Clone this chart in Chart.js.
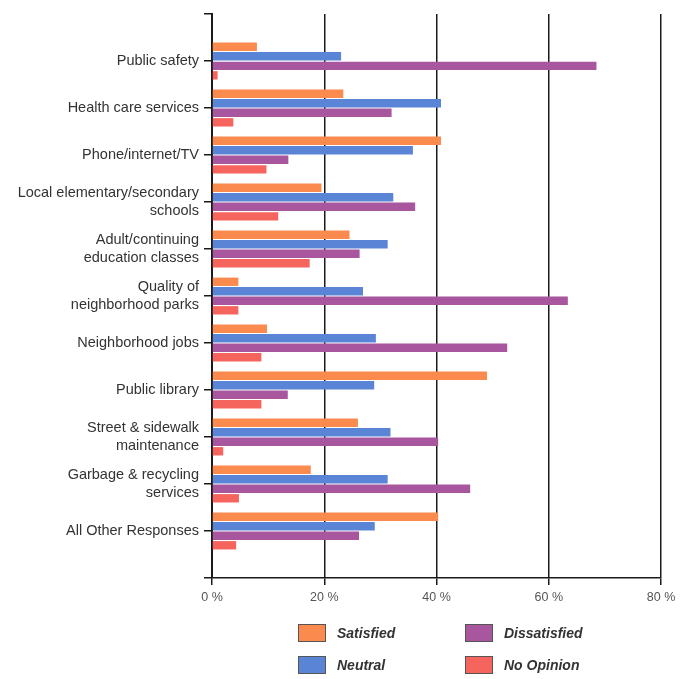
<!DOCTYPE html>
<html>
<head>
<meta charset="utf-8">
<script src="https://cdn.jsdelivr.net/npm/chart.js@4/dist/chart.umd.min.js"></script>
<style>
  body { margin: 0; background: #fff; }
  #wrap { position: relative; width: 691px; height: 679px; }
  #legend {
    position: absolute; left: 298px; top: 624px;
    display: grid; grid-template-columns: 167px 150px; row-gap: 15px;
    font: italic bold 14px "Liberation Sans", Arial, sans-serif; color: #333;
  }
  .item { display: flex; align-items: center; height: 17px; }
  .box { width: 26px; height: 16px; border: 1px solid #555; margin-right: 11px; box-sizing: content-box; }
</style>
</head>
<body>
<div id="wrap">
  <canvas id="chart"></canvas>
  <div id="legend"></div>
</div>
<script>
const categories = [
    "Public safety",
    "Health care services",
    "Phone/internet/TV",
    ["Local elementary/secondary", "schools"],
    ["Adult/continuing", "education classes"],
    ["Quality of", "neighborhood parks"],
    "Neighborhood jobs",
    "Public library",
    ["Street & sidewalk", "maintenance"],
    ["Garbage & recycling", "services"],
    "All Other Responses"
];
const satisfied    = [8, 23.4, 40.8, 19.5, 24.5, 4.7, 9.8, 49, 26, 17.6, 40.3];
const neutral      = [23, 40.8, 35.8, 32.3, 31.3, 26.9, 29.2, 28.9, 31.8, 31.3, 29];
const dissatisfied = [68.5, 32, 13.6, 36.2, 26.3, 63.4, 52.6, 13.5, 40.3, 46, 26.2];
const noOpinion    = [1, 3.8, 9.7, 11.8, 17.4, 4.7, 8.8, 8.8, 2, 4.8, 4.3];
const xTicks = [0, 20, 40, 60, 80];

// blank slot above and below the groups so the axis has half a row of room
const pad = arr => [null, ...arr, null];
const labels = ["", ...categories, ""];

const series = [
    { label: "Satisfied",    data: satisfied,    color: "#fa8a4e" },
    { label: "Neutral",      data: neutral,      color: "#5a85d6" },
    { label: "Dissatisfied", data: dissatisfied, color: "#a8579e" },
    { label: "No Opinion",   data: noOpinion,    color: "#f6645e" }
];

const chart = new Chart(document.getElementById("chart"), {
    type: "bar",
    data: {
        labels: labels,
        datasets: series.map(s => ({
            label: s.label,
            data: pad(s.data),
            backgroundColor: s.color,
            categoryPercentage: 0.81,
            barPercentage: 0.88
        }))
    },
    options: {
        indexAxis: "y",
        responsive: true,
        maintainAspectRatio: false,
        animation: false,
        layout: { padding: { left: 0, right: 30, top: 14, bottom: 61 } },
        plugins: {
            legend: { display: false },
            tooltip: { enabled: false }
        },
        scales: {
            x: {
                min: 0,
                max: 80,
                afterBuildTicks: s => { s.ticks = xTicks.map(v => ({ value: v })); },
                afterFit: s => { s.height = 40; },
                grid: { color: "#1a1a1a", lineWidth: 1.5, tickLength: 7 },
                border: { display: true, color: "#1a1a1a", width: 1.5 },
                ticks: {
                    callback: v => v + " %",
                    color: "#555",
                    padding: 5,
                    font: { family: "Liberation Sans", size: 12.5 }
                }
            },
            y: {
                offset: false,
                afterFit: s => { s.width = 212; },
                grid: { offset: false, drawOnChartArea: false, drawTicks: true, tickLength: 8, color: "#1a1a1a", lineWidth: 1.5 },
                border: { display: true, color: "#1a1a1a", width: 2 },
                ticks: {
                    color: "#333",
                    padding: 5,
                    autoSkip: false,
                    font: { family: "Liberation Sans", size: 14.5, lineHeight: 1.25 }
                }
            }
        }
    }
});

// two-by-two legend below the plot
const legend = document.getElementById("legend");
[0, 2, 1, 3].forEach(i => {
    const item = document.createElement("div");
    item.className = "item";
    item.innerHTML = '<span class="box" style="background:' + series[i].color + '"></span>' + series[i].label;
    legend.appendChild(item);
});
</script>
</body>
</html>
